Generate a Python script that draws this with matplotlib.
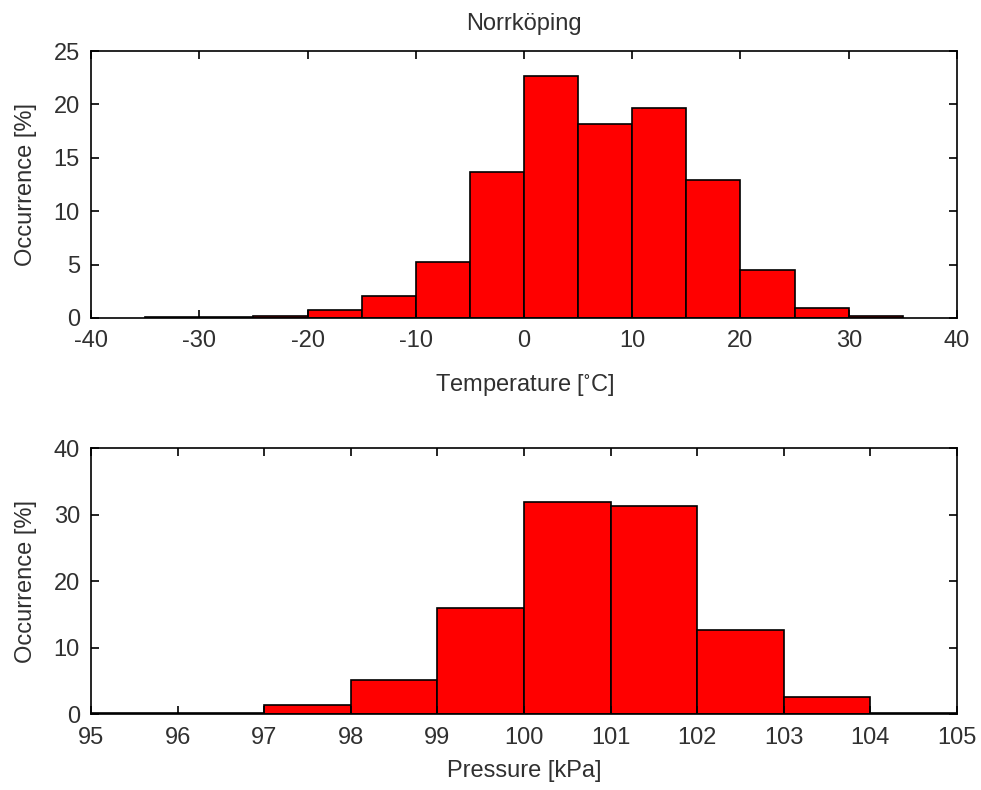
import matplotlib
matplotlib.use("Agg")
import matplotlib.pyplot as plt

# Temperature histogram, 5 degree bins
temp_edges = [-35, -30, -25, -20, -15, -10, -5, 0, 5, 10, 15, 20, 25, 30, 35]
temp_occ = [0.1, 0.1, 0.15, 0.75, 2.05, 5.25, 13.7, 22.7, 18.2, 19.7, 12.9, 4.5, 0.95, 0.15]

# Pressure histogram, 1 kPa bins
pres_edges = [95, 96, 97, 98, 99, 100, 101, 102, 103, 104, 105]
pres_occ = [0.1, 0.1, 1.4, 5.1, 15.9, 31.9, 31.3, 12.6, 2.6, 0.2]

plt.rcParams['font.family'] = ['Liberation Sans', 'DejaVu Sans']
plt.rcParams['mathtext.default'] = 'regular'
plt.rcParams['axes.unicode_minus'] = False
plt.rcParams['font.size'] = 17

TXT = '#303030'

fig = plt.figure(figsize=(9.81, 7.9), dpi=100)
ax1 = fig.add_axes([0.0928, 0.5975, 0.8827, 0.3379])
ax2 = fig.add_axes([0.0928, 0.0962, 0.8827, 0.3367])


def draw_hist(ax, edges, occ):
    widths = [edges[i + 1] - edges[i] for i in range(len(occ))]
    ax.bar(edges[:-1], occ, width=widths, align='edge', color='#ff0000',
           edgecolor='black', linewidth=1.2)
    ax.tick_params(direction='in', length=6, top=True, right=True,
                   labelsize=17, color='black', labelcolor=TXT, width=1.2)
    ax.tick_params(axis='x', pad=9)
    ax.tick_params(axis='y', pad=8)
    for s in ax.spines.values():
        s.set_linewidth(1.2)


draw_hist(ax1, temp_edges, temp_occ)
ax1.set_xlim(-40, 40)
ax1.set_ylim(0, 25)
ax1.set_xticks(range(-40, 41, 10))
ax1.set_yticks(range(0, 26, 5))
ax1.set_xlabel('Temperature [$^{\\circ}$C]', color=TXT, labelpad=14)
ax1.set_ylabel('Occurrence [%]', color=TXT, labelpad=12)
ax1.set_title('Norrköping', color=TXT, fontsize=17, pad=15)

draw_hist(ax2, pres_edges, pres_occ)
ax2.set_xlim(95, 105)
ax2.set_ylim(0, 40)
ax2.set_xticks(range(95, 106, 1))
ax2.set_yticks(range(0, 41, 10))
ax2.set_xlabel('Pressure [kPa]', color=TXT, labelpad=8)
ax2.set_ylabel('Occurrence [%]', color=TXT, labelpad=12)

fig.savefig('out.png', dpi=100)
